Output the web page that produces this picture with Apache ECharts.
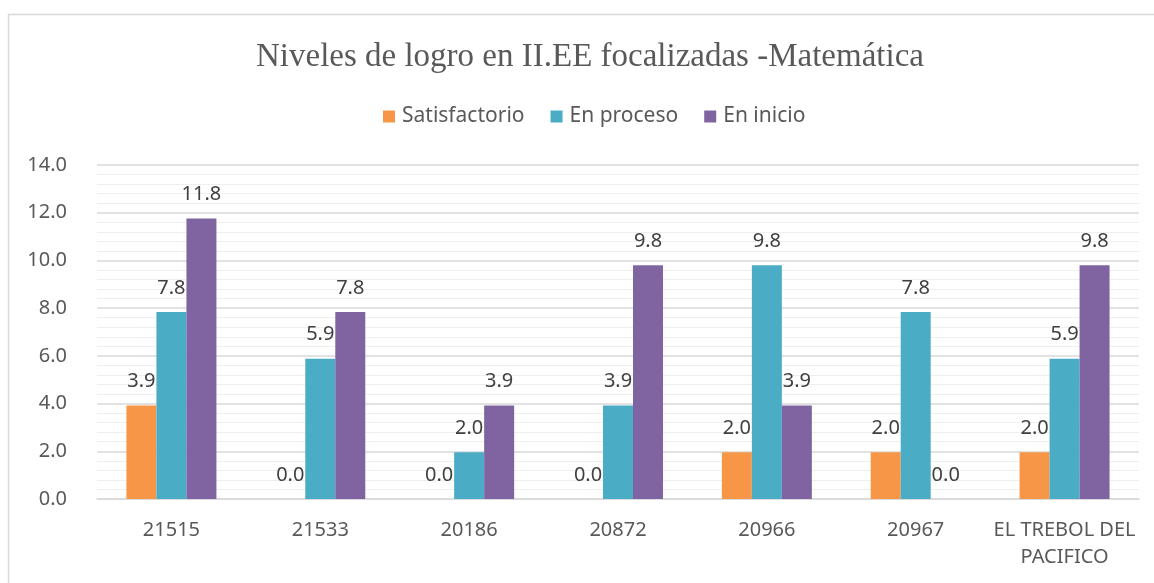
<!DOCTYPE html>
<html>
<head>
<meta charset="utf-8">
<script src="https://cdn.jsdelivr.net/npm/echarts@6/dist/echarts.min.js"></script>
<style>
  html, body { margin: 0; padding: 0; background: #fff; }
  #chart { width: 1154px; height: 583px; }
</style>
</head>
<body>
<div id="chart"></div>
<script>
// categories and values
const schools = ["21515", "21533", "20186", "20872", "20966", "20967", "EL TREBOL DEL\nPACIFICO"];
const satisfactorio = [3.92, 0, 0, 0, 1.96, 1.96, 1.96];
const enProceso = [7.84, 5.88, 1.96, 3.92, 9.80, 7.84, 5.88];
const enInicio = [11.76, 7.84, 3.92, 9.80, 3.92, 0, 9.80];
const yTicks = [0, 2, 4, 6, 8, 10, 12, 14];

const chart = echarts.init(document.getElementById("chart"));

function barSeries(name, values, color) {
    return {
        name: name,
        type: "bar",
        data: values,
        barWidth: 30,
        barGap: "0%",
        itemStyle: {color: color},
        label: {
            show: true,
            position: "top",
            distance: 14,
            fontFamily: "Noto Sans",
            fontSize: 20,
            color: "#404040",
            formatter: p => p.value.toFixed(1)
        }
    };
}

const option = {
    backgroundColor: "#fff",
    animation: false,
    graphic: [{
        type: "rect",
        shape: {x: 8.5, y: 14.5, width: 1200, height: 700},
        style: {fill: "none", stroke: "#d9d9d9", lineWidth: 1.5}
    }],
    title: {
        text: "Niveles de logro en II.EE focalizadas -Matemática",
        left: 251,
        top: 36,
        textStyle: {fontFamily: "Liberation Serif", fontSize: 33, fontWeight: "normal", color: "#595959"}
    },
    legend: {
        top: 101,
        left: 378,
        itemWidth: 12,
        itemHeight: 12,
        itemGap: 26,
        icon: "rect",
        textStyle: {fontFamily: "Noto Sans", fontSize: 21, color: "#595959", padding: [0, 0, 0, 2]},
        data: ["Satisfactorio", "En proceso", "En inicio"]
    },
    grid: {left: 97, right: 15, top: 165, bottom: 84},
    xAxis: {
        type: "category",
        data: schools,
        axisLine: {lineStyle: {color: "#d9d9d9", width: 1.5}},
        axisTick: {show: false},
        axisLabel: {fontFamily: "Noto Sans", fontSize: 20, color: "#595959", margin: 18, lineHeight: 27, interval: 0}
    },
    yAxis: {
        type: "value",
        min: yTicks[0],
        max: yTicks[yTicks.length - 1],
        interval: 2,
        axisLine: {show: false},
        axisTick: {show: false},
        axisLabel: {fontFamily: "Noto Sans", fontSize: 20, color: "#595959", margin: 30, formatter: v => v.toFixed(1)},
        splitLine: {lineStyle: {color: "#d9d9d9", width: 1.5}},
        minorTick: {show: false, splitNumber: 5},
        minorSplitLine: {show: true, lineStyle: {color: "#efefef", width: 1}}
    },
    series: [
        barSeries("Satisfactorio", satisfactorio, "#f79646"),
        barSeries("En proceso", enProceso, "#4bacc6"),
        barSeries("En inicio", enInicio, "#8064a2")
    ]
};

chart.setOption(option);
</script>
</body>
</html>
